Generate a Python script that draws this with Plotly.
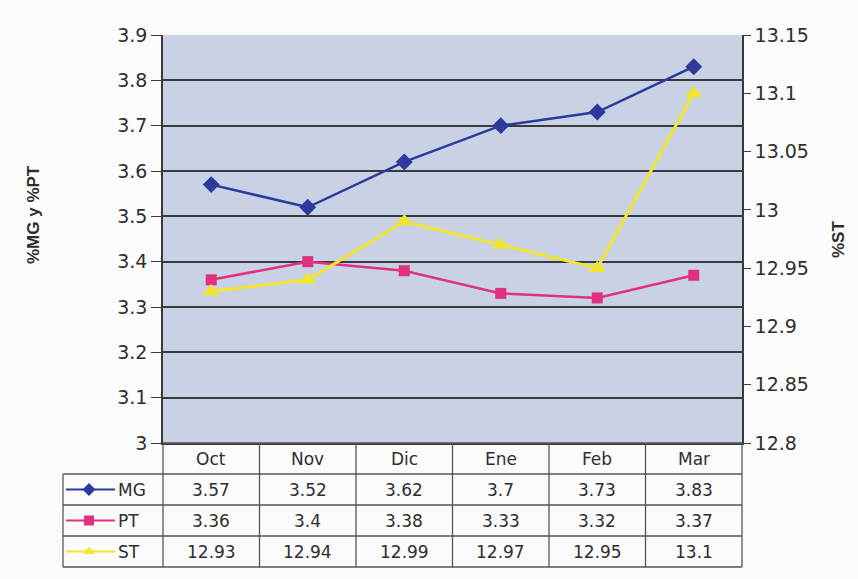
import plotly.graph_objects as go

# ---------------- data ----------------
months = ["Oct", "Nov", "Dic", "Ene", "Feb", "Mar"]
mg = [3.57, 3.52, 3.62, 3.7, 3.73, 3.83]
pt = [3.36, 3.4, 3.38, 3.33, 3.32, 3.37]
st = [12.93, 12.94, 12.99, 12.97, 12.95, 13.1]
series_names = ["MG", "PT", "ST"]

left_ticks = [3.0, 3.1, 3.2, 3.3, 3.4, 3.5, 3.6, 3.7, 3.8, 3.9]
left_labels = ["3", "3.1", "3.2", "3.3", "3.4", "3.5", "3.6", "3.7", "3.8", "3.9"]
right_ticks = [12.8, 12.85, 12.9, 12.95, 13.0, 13.05, 13.1, 13.15]
right_labels = ["12.8", "12.85", "12.9", "12.95", "13", "13.05", "13.1", "13.15"]

# ---------------- layout constants ----------------
W, H = 858, 579
PX_L, PX_R = 163, 742      # plot area left/right (pixels)
PX_T, PX_B = 35, 443       # plot area top/bottom (pixels)
ROW_H = 31                 # table row height
LEG_L = 63                 # legend column left edge

COL_MG = "#2b3a9c"
COL_PT = "#e0307e"
COL_ST = "#f2e52c"
GRID = "#3a3a3a"
TXT = "#2e2e2e"
FONT = "DejaVu Sans"

values = [mg, pt, st]
colors = [COL_MG, COL_PT, COL_ST]
symbols = ["diamond", "square", "triangle-up"]

fig = go.Figure()

fig.add_trace(go.Scatter(x=months, y=mg, mode="lines+markers", name="MG",
                         line=dict(color=COL_MG, width=2.5),
                         marker=dict(symbol="diamond", size=13, color=COL_MG),
                         xaxis="x", yaxis="y"))
fig.add_trace(go.Scatter(x=months, y=pt, mode="lines+markers", name="PT",
                         line=dict(color=COL_PT, width=2.5),
                         marker=dict(symbol="square", size=11, color=COL_PT),
                         xaxis="x", yaxis="y"))
fig.add_trace(go.Scatter(x=months, y=st, mode="lines+markers", name="ST",
                         line=dict(color=COL_ST, width=3),
                         marker=dict(symbol="triangle-up", size=15, color=COL_ST),
                         xaxis="x", yaxis="y2"))

# legend keys inside the table (pixel overlay axes x3/y3)
for i, (nm, c, s) in enumerate(zip(series_names, colors, symbols)):
    yc = PX_B + ROW_H * (i + 1) + ROW_H / 2
    fig.add_trace(go.Scatter(x=[LEG_L + 3, 88, 115], y=[yc, yc, yc], mode="lines",
                             line=dict(color=c, width=2), xaxis="x3", yaxis="y3",
                             showlegend=False, hoverinfo="skip"))
    fig.add_trace(go.Scatter(x=[89], y=[yc], mode="markers",
                             marker=dict(symbol=s, size=10, color=c),
                             xaxis="x3", yaxis="y3", showlegend=False, hoverinfo="skip"))

shapes = []
shapes.append(dict(type="rect", xref="x domain", yref="y domain", x0=0, x1=1, y0=0, y1=1,
                   fillcolor="#c8d2e4", line=dict(width=0), layer="below"))

n = len(months)
cw = (PX_R - PX_L) / n
line_style = dict(color="#555555", width=1.3)
table_bottom = PX_B + ROW_H * 4
shapes.append(dict(type="line", xref="x3", yref="y3", x0=PX_L, x1=PX_R, y0=PX_B, y1=PX_B, line=line_style))
for r in range(1, 5):
    y = PX_B + ROW_H * r
    shapes.append(dict(type="line", xref="x3", yref="y3", x0=LEG_L, x1=PX_R, y0=y, y1=y, line=line_style))
for k in range(n + 1):
    x = PX_L + cw * k
    shapes.append(dict(type="line", xref="x3", yref="y3", x0=x, x1=x, y0=PX_B, y1=table_bottom, line=line_style))
shapes.append(dict(type="line", xref="x3", yref="y3", x0=LEG_L, x1=LEG_L,
                   y0=PX_B + ROW_H, y1=table_bottom, line=line_style))

annotations = []
for m in months:
    annotations.append(dict(x=m, y=PX_B + ROW_H / 2, xref="x", yref="y3", text=m,
                            showarrow=False, font=dict(family=FONT, size=17, color=TXT)))
for i, vals in enumerate(values):
    yc = PX_B + ROW_H * (i + 1) + ROW_H / 2
    for m, v in zip(months, vals):
        annotations.append(dict(x=m, y=yc, xref="x", yref="y3", text=f"{v:g}",
                                showarrow=False, font=dict(family=FONT, size=17, color=TXT)))
    annotations.append(dict(x=116, y=yc, xref="x3", yref="y3", text=series_names[i],
                            xanchor="left", showarrow=False,
                            font=dict(family=FONT, size=17, color=TXT)))

annotations.append(dict(x=33, y=215, xref="x3", yref="y3", text="<b>%MG y %PT</b>",
                        textangle=-90, showarrow=False,
                        font=dict(family="Liberation Sans", size=17, color=TXT)))
annotations.append(dict(x=838, y=240, xref="x3", yref="y3", text="<b>%ST</b>",
                        textangle=-90, showarrow=False,
                        font=dict(family="Liberation Sans", size=17, color=TXT)))

fig.update_layout(
    width=W, height=H,
    margin=dict(l=0, r=0, t=0, b=0, autoexpand=False),
    paper_bgcolor="#fbfbfb",
    plot_bgcolor="rgba(0,0,0,0)",
    showlegend=False,
    xaxis=dict(domain=[PX_L / W, PX_R / W], range=[-0.5, n - 0.5], type="category",
               categoryorder="array", categoryarray=months,
               showticklabels=False, ticks="", showgrid=False, zeroline=False,
               showline=True, linecolor=GRID, linewidth=1.5, automargin=False,
               anchor="y"),
    yaxis=dict(domain=[1 - PX_B / H, 1 - PX_T / H], range=[3.0, 3.9],
               tickvals=left_ticks, ticktext=left_labels,
               ticks="outside", ticklen=10, tickcolor=GRID,
               showgrid=True, gridcolor=GRID, gridwidth=1.5, zeroline=False,
               showline=True, linecolor=GRID, linewidth=1.5, automargin=False,
               tickfont=dict(family=FONT, size=19, color=TXT), anchor="x"),
    yaxis2=dict(overlaying="y", side="right", range=[12.8, 13.15],
                tickvals=right_ticks, ticktext=right_labels,
                ticks="outside", ticklen=7, tickcolor=GRID,
                showgrid=False, zeroline=False,
                showline=True, linecolor=GRID, linewidth=1.5, automargin=False,
                tickfont=dict(family=FONT, size=19, color=TXT), anchor="x"),
    xaxis3=dict(domain=[0, 1], range=[0, W], visible=False, anchor="y3", fixedrange=True, automargin=False),
    yaxis3=dict(domain=[0, 1], range=[H, 0], visible=False, anchor="x3", fixedrange=True, automargin=False),
    shapes=shapes,
    annotations=annotations,
)

fig.write_html("out.html")
